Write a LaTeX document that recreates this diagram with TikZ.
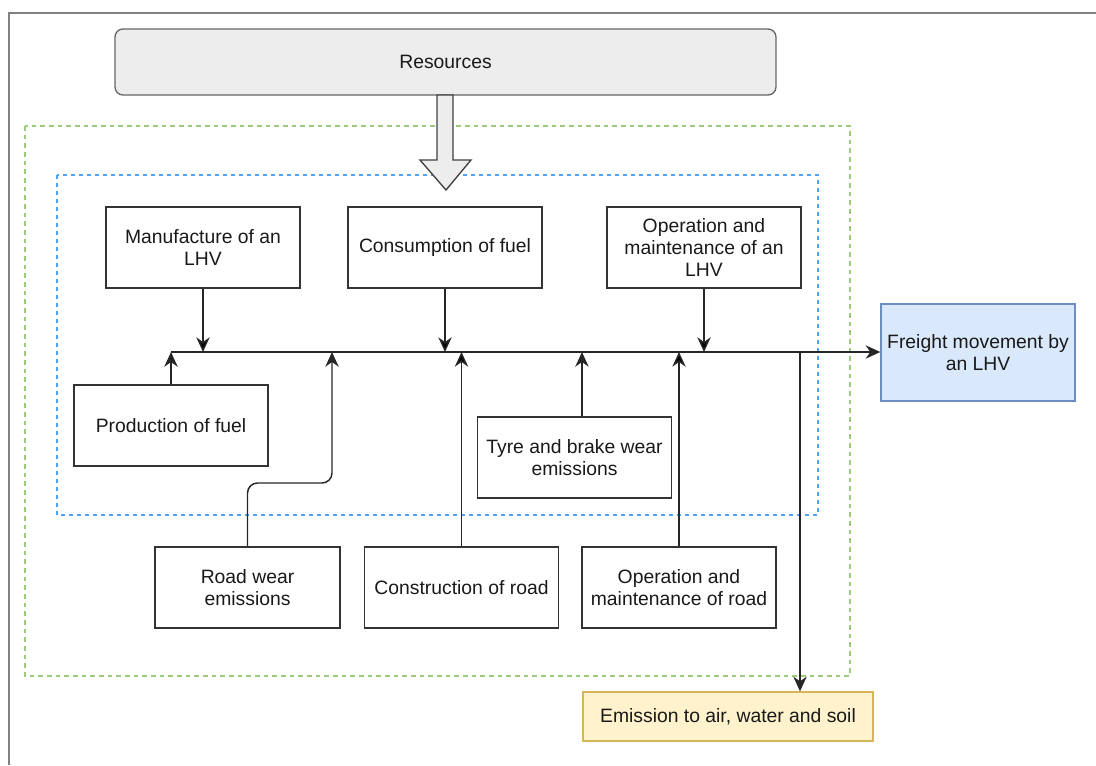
\documentclass[tikz,border=0pt]{standalone}
\usepackage{fontspec}
\setmainfont{Liberation Sans}
\usetikzlibrary{arrows.meta}
\definecolor{frtfill}{HTML}{DAE8FC}
\definecolor{frtline}{HTML}{6C8EBF}
\definecolor{emifill}{HTML}{FFF2CC}
\definecolor{emiline}{HTML}{D6B656}
\definecolor{grnline}{HTML}{9CCB7E}
\definecolor{bluline}{HTML}{4DA3FF}
\begin{document}
\begin{tikzpicture}[x=0.75pt,y=-0.75pt]
	\tikzstyle{every node}=[font=\fontsize{14.5}{16.5}\selectfont,align=center,text=black!90]
	\tikzstyle{box}=[draw=black!80,line width=1.1pt,minimum width=145.5pt,minimum height=60.75pt,inner sep=2pt]
	\tikzstyle{link}=[draw=black!85,line width=1.1pt,-{Stealth[length=11pt,width=10pt,inset=3.5pt]}]
	\useasboundingbox (0,0) rectangle (1096,765);
	\draw[black!50,line width=1.5pt] (9,765) -- (9,13) -- (1096,13);

	% system boundaries
	\draw[grnline,line width=0.9pt,dash pattern=on 3.5pt off 3pt] (25,126) rectangle (850,676);
	\draw[bluline,line width=1.1pt,dash pattern=on 3pt off 3pt] (57,175) rectangle (818,515);

	\node (res) at (445.5,62) [draw=black!60,fill=black!7,line width=1pt,rounded corners=6pt,minimum width=495.75pt,minimum height=49.5pt] {Resources};

	\node (man) at (203,247.5) [box] {Manufacture of an\\LHV};
	\node (con) at (445,247.5) [box] {Consumption of fuel};
	\node (olhv) at (704,247.5) [box] {Operation and\\maintenance of an\\LHV};
	\node (prod) at (171,425.5) [box] {Production of fuel};
	\node (tyre) at (574.5,457.5) [box] {Tyre and brake wear\\emissions};
	\node (road) at (247.5,587.5) [box,minimum width=138.75pt] {Road wear\\emissions};
	\node (cons) at (461.5,587.5) [box] {Construction of road};
	\node (oroad) at (679,587.5) [box] {Operation and\\maintenance of road};

	\node (frt) at (978,352.5) [draw=frtline,fill=frtfill,line width=1pt,minimum width=145.5pt,minimum height=72.75pt] {Freight movement by\\an LHV};
	\node (emi) at (728,716.5) [draw=emiline,fill=emifill,line width=1pt,minimum width=217.5pt,minimum height=36.75pt] {Emission to air, water and soil};

	% resource input
	\draw[draw=black!75,fill=black!7,line width=1pt] (437,95) -- (453,95) -- (453,160) -- (471,160) -- (446,190) -- (420,160) -- (437,160) -- cycle;

	% main line
	\coordinate (bus) at (171,352);
	\coordinate (tap) at (800,352);
	\coordinate (bend) at (332,483);
	\coordinate (tyretop) at ([xshift=5.6pt]tyre.north);
	\draw[link] (bus) -- (bus -| frt.west);

	\path[link,line width=1.7pt] (prod) edge (prod |- bus);
	\path[link] (man) edge (man |- bus);
	\path[link] (con) edge (con |- bus);
	\path[link] (olhv) edge (olhv |- bus);
	\draw[link,rounded corners=7.5pt] (road.north) |- (bend) -- (bend |- bus);
	\path[link] (cons) edge (cons |- bus);
	\draw[link] (tyretop) -- (tyretop |- bus);
	\path[link] (oroad) edge (oroad |- bus);
	\draw[link] (tap) -- (tap |- emi.north);
\end{tikzpicture}
\end{document}
